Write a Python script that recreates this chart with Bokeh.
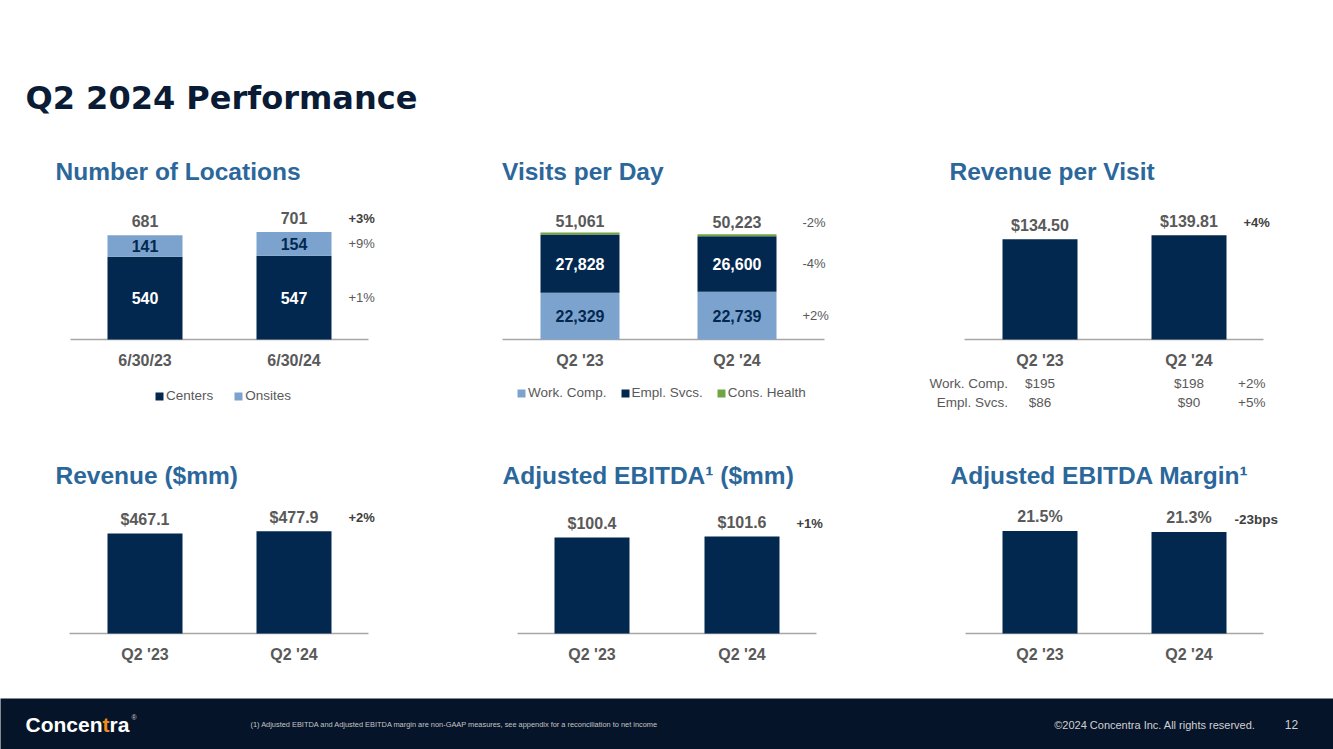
from bokeh.plotting import figure
from bokeh.models import (Range1d, Label, LabelSet, ColumnDataSource, Legend, LegendItem)
from bokeh.layouts import row, column
from bokeh.core.properties import value
from bokeh.embed import file_html
from bokeh.resources import INLINE

# ---------------- data ----------------
loc_cats = ["6/30/23", "6/30/24"]
loc_centers = [540, 547]
loc_onsites = [141, 154]
loc_changes = ["+3%", "+9%", "+1%"]          # total, onsites, centers

vpd_cats = ["Q2 '23", "Q2 '24"]
vpd_work_comp = [22329, 22739]
vpd_empl_svcs = [27828, 26600]
vpd_cons_health = [904, 884]
vpd_changes = ["-2%", "-4%", "+2%"]          # total, empl. svcs., work comp.

rpv_cats = ["Q2 '23", "Q2 '24"]
rpv_values = [134.50, 139.81]
rpv_change = "+4%"
rpv_rows = ["Work. Comp.", "Empl. Svcs."]
rpv_work_comp = [195, 198]
rpv_empl_svcs = [86, 90]
rpv_row_changes = ["+2%", "+5%"]

rev_cats = ["Q2 '23", "Q2 '24"]
rev_values = [467.1, 477.9]
rev_change = "+2%"

ebitda_cats = ["Q2 '23", "Q2 '24"]
ebitda_values = [100.4, 101.6]
ebitda_change = "+1%"

margin_cats = ["Q2 '23", "Q2 '24"]
margin_values = [21.5, 21.3]
margin_change = "-23bps"

# ---------------- styles ----------------
FONT = "Liberation Sans, Arial, sans-serif"
NAVY = "#02284f"
LIGHT = "#7ca3cd"
GREEN = "#72a443"
GRAY = "#595959"
DARK = "#404040"
AXIS = "#a6a6a6"
TITLE_BLUE = "#2b679b"
FOOT_BG = "#06142a"


class Chart:
    """A figure whose frame fills the whole box; (c0, ya) is the page pixel of
    the first category on the value axis, u px per category, s px per unit."""

    def __init__(self, x0, W, y0, H, c0, u, ya, s, ax_l, ax_r, cats):
        self.x0, self.c0, self.u, self.ya = x0, c0, u, ya
        xs = -(c0 - x0) / u
        ys = -(y0 + H - ya) / s
        self.xs = xs
        self.p = figure(width=W, height=H,
                        x_range=Range1d(xs, xs + W / u),
                        y_range=Range1d(ys, (ya - y0) / s),
                        output_backend="svg", toolbar_location=None,
                        x_axis_location=None, y_axis_location=None, min_border=0,
                        outline_line_color=None, background_fill_color="white",
                        border_fill_color="white")
        self.p.grid.visible = False
        n = len(cats)
        self.n = n
        # category axis line and labels
        self.p.segment(x0=[(ax_l - c0) / u], y0=[0], x1=[(ax_r - c0) / u], y1=[0],
                       line_color=AXIS, line_width=1.5)
        cat_src = ColumnDataSource(dict(x=list(range(n)), y=[0] * n, cat=cats))
        self.p.add_layout(LabelSet(x="x", y="y", text="cat", source=cat_src, y_offset=-20.5,
                                   text_font=value(FONT), text_font_size="16px",
                                   text_font_style="bold", text_color=GRAY,
                                   text_align="center", text_baseline="middle"))

    def text(self, x, y, text, size, color, bold=True, align="center", dx=0, dy=0):
        self.p.add_layout(Label(x=x, y=y, text=text, x_offset=dx, y_offset=dy,
                                text_font=FONT, text_font_size=size,
                                text_font_style="bold" if bold else "normal",
                                text_color=color, text_align=align,
                                text_baseline="middle"))

    def labelset(self, src, y, text, color, size="16px", dy=0, bold=True):
        self.p.add_layout(LabelSet(x="x", y=y, text=text, source=src, y_offset=dy,
                                   text_font=value(FONT), text_font_size=size,
                                   text_font_style="bold" if bold else "normal",
                                   text_color=color, text_align="center",
                                   text_baseline="middle"))

    def title(self, text, tx, ty):
        self.text(self.xs, 0, text, "24.5px", TITLE_BLUE, True, "left",
                  tx - self.x0, self.ya - ty)

    def legend(self, items, lx, ly_bottom, spacing):
        self.p.add_layout(Legend(items=items, orientation="horizontal",
                                 location=(lx - self.x0, ly_bottom),
                                 glyph_width=10, glyph_height=10, label_standoff=2,
                                 spacing=spacing, padding=0, margin=0,
                                 label_text_font=FONT, label_text_font_size="13.5px",
                                 label_text_color=GRAY, label_height=14,
                                 border_line_color=None, background_fill_alpha=0))


# ---------------- chart 1: Number of Locations ----------------
c1 = Chart(0, 447, 140, 300, 144.5, 149, 339, 0.1532, 70, 368, loc_cats)
tot1 = [c + o for c, o in zip(loc_centers, loc_onsites)]
src1 = ColumnDataSource(dict(
    x=list(range(c1.n)), centers=loc_centers, onsites=loc_onsites, total=tot1,
    total_txt=[f"{t:,}" for t in tot1],
    c_mid=[c / 2 for c in loc_centers],
    o_mid=[c + o / 2 for c, o in zip(loc_centers, loc_onsites)],
    c_txt=[f"{c:,}" for c in loc_centers], o_txt=[f"{o:,}" for o in loc_onsites]))
r1 = c1.p.vbar_stack(["centers", "onsites"], x="x", width=75 / 149,
                     fill_color=[NAVY, LIGHT], line_color=None, source=src1)
c1.labelset(src1, "total", "total_txt", GRAY, dy=14)
c1.labelset(src1, "c_mid", "c_txt", "white")
c1.labelset(src1, "o_mid", "o_txt", NAVY)
k = c1.n - 1
c1.text(k, tot1[k], loc_changes[0], "13px", DARK, True, "left", 54.5, 14)
c1.text(k, src1.data["o_mid"][k], loc_changes[1], "13px", GRAY, False, "left", 54.5, 0)
c1.text(k, src1.data["c_mid"][k], loc_changes[2], "13px", GRAY, False, "left", 54.5, 0)
c1.legend([LegendItem(label="Centers", renderers=[r1[0]]),
           LegendItem(label="Onsites", renderers=[r1[1]])], 154, 37, 20)
c1.title("Number of Locations", 55, 171)

# ---------------- chart 2: Visits per Day ----------------
c2 = Chart(447, 447, 140, 300, 579.5, 157, 339, 0.002095, 502, 824, vpd_cats)
tot2 = [a + b + c for a, b, c in zip(vpd_work_comp, vpd_empl_svcs, vpd_cons_health)]
src2 = ColumnDataSource(dict(
    x=list(range(c2.n)), wc=vpd_work_comp, es=vpd_empl_svcs, ch=vpd_cons_health,
    total=tot2, total_txt=[f"{t:,}" for t in tot2],
    wc_mid=[a / 2 for a in vpd_work_comp],
    es_mid=[a + b / 2 for a, b in zip(vpd_work_comp, vpd_empl_svcs)],
    wc_txt=[f"{a:,}" for a in vpd_work_comp], es_txt=[f"{b:,}" for b in vpd_empl_svcs]))
r2 = c2.p.vbar_stack(["wc", "es", "ch"], x="x", width=79 / 157,
                     fill_color=[LIGHT, NAVY, GREEN], line_color=None, source=src2)
c2.labelset(src2, "total", "total_txt", GRAY, dy=12)
c2.labelset(src2, "wc_mid", "wc_txt", NAVY)
c2.labelset(src2, "es_mid", "es_txt", "white")
k = c2.n - 1
c2.text(k, tot2[k], vpd_changes[0], "13px", GRAY, False, "left", 65.5, 12)
c2.text(k, src2.data["es_mid"][k], vpd_changes[1], "13px", GRAY, False, "left", 65.5, 0)
c2.text(k, src2.data["wc_mid"][k], vpd_changes[2], "13px", GRAY, False, "left", 65.5, 0)
c2.legend([LegendItem(label="Work. Comp.", renderers=[r2[0]]),
           LegendItem(label="Empl. Svcs.", renderers=[r2[1]]),
           LegendItem(label="Cons. Health", renderers=[r2[2]])], 516, 40, 13)
c2.title("Visits per Day", 501.5, 171)


# ---------------- simple bar charts ----------------
def simple_chart(geom, cats, vals, fmt, change, change_dx, change_size, change_dy,
                 title, tx, ty):
    c = Chart(*geom, cats)
    src = ColumnDataSource(dict(x=list(range(c.n)), v=vals, txt=[fmt(v) for v in vals]))
    c.p.vbar(x="x", top="v", width=75 / c.u, fill_color=NAVY, line_color=None, source=src)
    c.labelset(src, "v", "txt", GRAY, dy=14)
    c.text(c.n - 1, vals[-1], change, change_size, DARK, True, "left", change_dx, change_dy)
    c.title(title, tx, ty)
    return c


c3 = simple_chart((894, 439, 140, 300, 1039.5, 149, 339, 0.746, 964, 1263),
                  rpv_cats, rpv_values, lambda v: f"${v:.2f}",
                  rpv_change, 54.5, "13px", 13, "Revenue per Visit", 949, 171)
tab_src = ColumnDataSource(dict(x=list(range(c3.n)), y=[0] * c3.n,
                                wc=[f"${v}" for v in rpv_work_comp],
                                es=[f"${v}" for v in rpv_empl_svcs]))
for col, dy in (("wc", -44), ("es", -63)):
    c3.p.add_layout(LabelSet(x="x", y="y", text=col, source=tab_src, y_offset=dy,
                             text_font=value(FONT), text_font_size="13.5px",
                             text_color=GRAY, text_align="center", text_baseline="middle"))
for i, (name, dy) in enumerate(zip(rpv_rows, (-44, -63))):
    c3.text(0, 0, name, "13.5px", GRAY, False, "right", -32, dy)
    c3.text(c3.n - 1, 0, rpv_row_changes[i], "13.5px", GRAY, False, "left", 49, dy)

c4 = simple_chart((0, 447, 440, 258, 144.5, 149, 633, 0.2141, 69, 368),
                  rev_cats, rev_values, lambda v: f"${v:.1f}",
                  rev_change, 54.5, "13px", 14, "Revenue ($mm)", 55, 474.5)
c5 = simple_chart((447, 447, 440, 258, 591.5, 150, 633, 0.9555, 517, 816),
                  ebitda_cats, ebitda_values, lambda v: f"${v:.1f}",
                  ebitda_change, 54.5, "13px", 13, "Adjusted EBITDA\u00b9 ($mm)", 502, 474.5)
c6 = simple_chart((894, 439, 440, 258, 1039.5, 149, 633, 4.77, 965, 1263),
                  margin_cats, margin_values, lambda v: f"{v:.1f}%",
                  margin_change, 45.5, "13.5px", 12, "Adjusted EBITDA Margin\u00b9", 950, 474.5)


# ---------------- header & footer ----------------
def blank_fig(width, height, bg):
    p = figure(width=width, height=height, x_range=Range1d(0, width),
               y_range=Range1d(height, 0), output_backend="svg",
               toolbar_location=None, x_axis_location=None, y_axis_location=None,
               min_border=0, outline_line_color=None,
               background_fill_color=bg, border_fill_color=bg)
    p.grid.visible = False
    return p


header = blank_fig(1333, 140, "white")
header.add_layout(Label(x=25, y=97, text="Q2 2024 Performance",
                        text_font="DejaVu Sans", text_font_size="32px",
                        text_font_style="bold", text_color="#0a1b35",
                        text_baseline="middle", text_align="left"))

footer = blank_fig(1333, 51, FOOT_BG)
for txt, x, col in (("Concen", 25, "white"), ("t", 102, "#f08a1c"), ("ra", 109, "white")):
    footer.add_layout(Label(x=x, y=26, text=txt, text_font=FONT,
                            text_font_size="21px", text_font_style="bold",
                            text_color=col, text_baseline="middle", text_align="left"))
footer.add_layout(Label(x=131, y=19, text="\u00ae", text_font=FONT,
                        text_font_size="7px", text_color="#cccccc",
                        text_baseline="middle", text_align="left"))
footer.add_layout(Label(x=250, y=26,
                        text="(1) Adjusted EBITDA and Adjusted EBITDA margin are non-GAAP measures, "
                             "see appendix for a reconciliation to net income",
                        text_font=FONT, text_font_size="7.4px", text_color="#c4c4c4",
                        text_baseline="middle", text_align="left"))
footer.add_layout(Label(x=1255, y=26, text="\u00a92024 Concentra Inc. All rights reserved.",
                        text_font=FONT, text_font_size="11px", text_color="#d0d0d0",
                        text_baseline="middle", text_align="right"))
footer.add_layout(Label(x=1291, y=26, text="12", text_font=FONT, text_font_size="12px",
                        text_color="#d0d0d0", text_baseline="middle", text_align="center"))

layout = column(header,
                row(c1.p, c2.p, c3.p, spacing=0),
                row(c4.p, c5.p, c6.p, spacing=0),
                footer, spacing=0)

open("out.html", "w").write(file_html(layout, INLINE, title="Q2 2024 Performance"))
